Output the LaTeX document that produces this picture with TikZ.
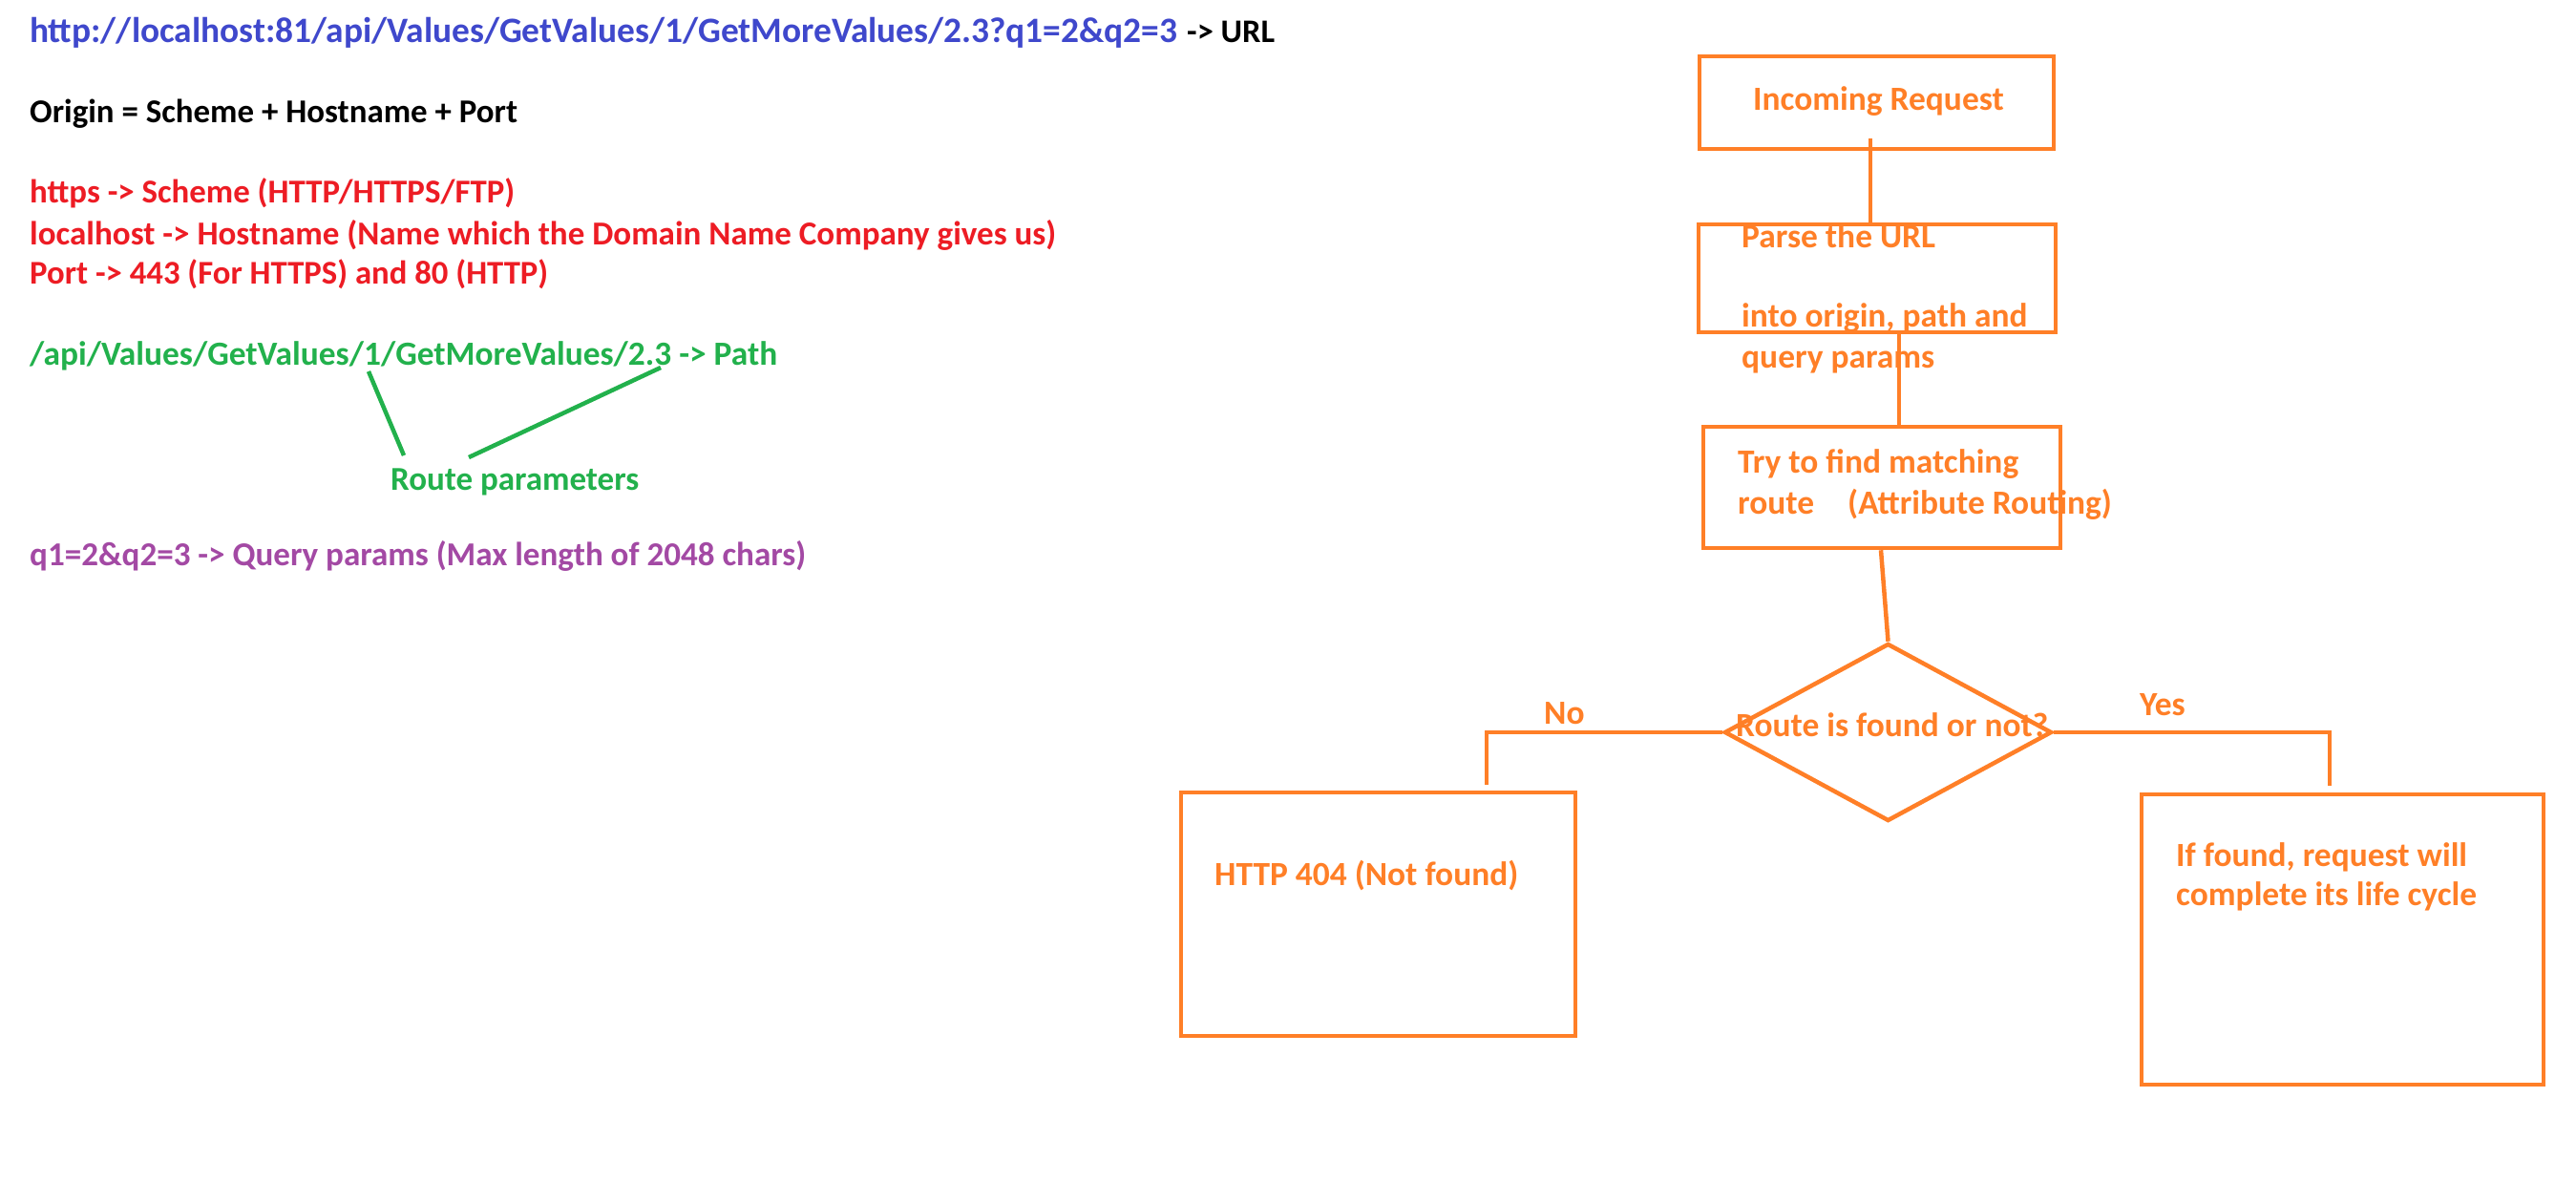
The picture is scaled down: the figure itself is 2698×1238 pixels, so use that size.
\documentclass[tikz,border=0pt]{standalone}
\usepackage{fontspec}
\setmainfont{Carlito}
\usetikzlibrary{shapes.geometric}
\definecolor{ublue}{HTML}{3F48CC}
\definecolor{ured}{HTML}{ED1C24}
\definecolor{ugreen}{HTML}{22B14C}
\definecolor{upurple}{HTML}{A349A4}
\definecolor{uorange}{HTML}{FF7F27}
\newlength\fwid
\newlength\fitlen
% set #2 in bold at the size that makes it #1 pt wide
\newcommand\fitto[2]{\settowidth\fitlen{\fontsize{10}{12}\selectfont\bfseries #2}%
  \pgfmathsetmacro\fitsz{10*#1/\fitlen}\fontsize{\fitsz}{\fitsz}\selectfont\bfseries #2}
\begin{document}
\settowidth\fwid{\fontsize{10}{12}\selectfont\bfseries Route is found or not?}
\pgfmathsetmacro\fsize{10*327/\fwid}
\begin{tikzpicture}[x=1pt,y=-1pt,
  lefttxt/.style={anchor=base west, inner sep=0pt},
  flowtxt/.style={anchor=base west, inner sep=0pt, text=uorange, font=\fontsize{\fsize}{\fsize}\selectfont\bfseries},
  flowbox/.style={draw=uorange, line width=4.5pt, inner sep=0pt},
  flowline/.style={draw=uorange, line width=4.5pt},
  greenline/.style={draw=ugreen, line width=4.5pt}]
\fill[white] (0,0) rectangle (2698,1238);
\useasboundingbox (0,0) rectangle (2698,1238);

% left texts
\node[lefttxt, text=ublue] (url) at (31,45) {\fitto{1202}{http://localhost:81/api/Values/GetValues/1/GetMoreValues/2.3?q1=2\&q2=3}};
\node[lefttxt] (urlname) at (1243,45) {\fitto{92}{-> URL}};
\node[lefttxt] (origin) at (31,129) {\fitto{511}{Origin = Scheme + Hostname + Port}};
\node[lefttxt, text=ured] (scheme) at (31,213) {\fitto{508}{https -> Scheme (HTTP/HTTPS/FTP)}};
\node[lefttxt, text=ured] (host) at (31,257) {\fitto{1075}{localhost -> Hostname (Name which the Domain Name Company gives us)}};
\node[lefttxt, text=ured] (port) at (31,298) {\fitto{543}{Port -> 443 (For HTTPS) and 80 (HTTP)}};
\node[lefttxt, text=ugreen] (path) at (31,383) {\fitto{783}{/api/Values/GetValues/1/GetMoreValues/2.3 -> Path}};
\node[lefttxt, text=ugreen] (routep) at (409,513) {\fitto{260}{Route parameters}};
\node[lefttxt, text=upurple] (query) at (31,592) {\fitto{813}{q1=2\&q2=3 -> Query params (Max length of 2048 chars)}};

\coordinate (g1a) at (386,389);
\coordinate (g1b) at (423,477);
\coordinate (g2a) at (692,385);
\coordinate (g2b) at (491,479);
\draw[greenline] (g1a) -- (g1b);
\draw[greenline] (g2a) -- (g2b);

% flowchart boxes
\node[flowbox, minimum width=371pt, minimum height=97pt] (b1) at (1965.5,107.5) {};
\node[flowbox, minimum width=374pt, minimum height=113pt] (b2) at (1966,291.5) {};
\node[flowbox, minimum width=374pt, minimum height=127pt] (b3) at (1971,510.5) {};
\node[flowbox, diamond, minimum width=343pt, minimum height=186pt] (dia) at (1977.5,767) {};
\node[flowbox, minimum width=413pt, minimum height=255pt] (b404) at (1443.5,957.5) {};
\node[flowbox, minimum width=421pt, minimum height=304pt] (bok) at (2453.5,984) {};

% flowchart texts
\node[flowtxt] (t1) at (1836,116) {Incoming Request};
\node[flowtxt] (t2a) at (1824,260) {Parse the URL};
\node[flowtxt] (t2b) at (1824,343) {into origin, path and};
\node[flowtxt] (t2c) at (1824,385) {query params};
\node[flowtxt] (t3a) at (1820,495) {Try to find matching};
\node[flowtxt] (t3b) at (1820,538) {route};
\node[flowtxt] (t3c) at (1935,538) {(Attribute Routing)};
\node[flowtxt] (tdia) at (1818,771) {Route is found or not?};
\node[flowtxt] (tno) at (1617,758) {No};
\node[flowtxt] (tyes) at (2241,749) {Yes};
\node[flowtxt] (t404) at (1272,927) {HTTP 404 (Not found)};
\node[flowtxt] (tok1) at (2279,907) {If found, request will};
\node[flowtxt] (tok2) at (2279,948) {complete its life cycle};

% connectors
\draw[flowline] ([xshift=-6.5pt,yshift=13pt]b1.south) -- ([xshift=-7pt]b2.north);
\draw[flowline] ([xshift=23pt,yshift=4pt]b2.south) -- ([xshift=18pt]b3.north);
\draw[flowline] ([xshift=-1pt]b3.south) -- (dia.north);
\coordinate (noc) at (1557,767);
\coordinate (noend) at (1557,822);
\draw[flowline] (dia.west) -- (noc) -- (noend);
\coordinate (yesc) at (2440,767);
\coordinate (yesend) at (2440,823);
\draw[flowline] (dia.east) -- (yesc) -- (yesend);
\end{tikzpicture}
\end{document}
